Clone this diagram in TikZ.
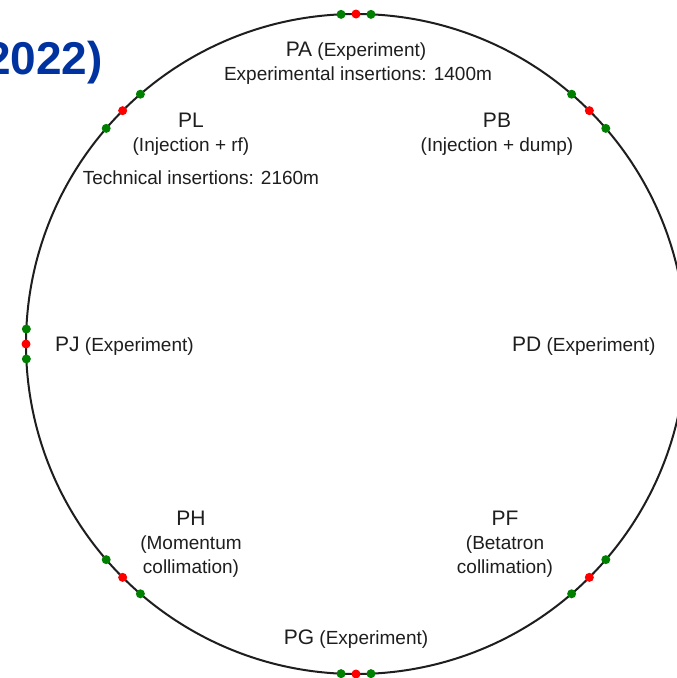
\documentclass[tikz,border=0pt]{standalone}
\usepackage{fontspec}
\setmainfont{Liberation Sans}
\definecolor{dotgreen}{RGB}{0,128,0}
\definecolor{dotred}{RGB}{255,0,0}
\definecolor{titleblue}{RGB}{0,51,160}
\definecolor{ink}{RGB}{30,30,30}
\newcommand{\ipname}[1]{{\fontsize{21}{22}\selectfont #1}}
\begin{document}
\begin{tikzpicture}[x=1pt,y=-1pt,
  ring/.style={line width=2pt, draw=ink},
  gdot/.style={circle, fill=dotgreen, inner sep=0pt, minimum size=9pt},
  rdot/.style={circle, fill=dotred, inner sep=0pt, minimum size=9pt},
  lbl/.style={font=\fontsize{19}{22}\selectfont, text=ink, inner sep=0pt, anchor=base},
  lblw/.style={lbl, anchor=base west}]
\useasboundingbox (0,0) rectangle (677,678);
\clip (0,0) rectangle (677,678);
\fill[white] (0,0) rectangle (677,678);
\coordinate (c) at (356,344);
\draw[ring] (c) circle[radius=330pt];
% axial interaction points
\foreach \n/\a in {pa/90, pj/180, pg/270} {
  \node[gdot] (\n g1) at ([shift={(\a+2.6:330pt)}]c) {};
  \node[gdot] (\n g2) at ([shift={(\a-2.6:330pt)}]c) {};
  \node[rdot] (\n r) at ([shift={(\a:330pt)}]c) {};
}
% diagonal points
\foreach \n/\a in {pb/45, pl/135, ph/225, pf/315} {
  \node[gdot] (\n g1) at ([shift={(\a+4.2:330pt)}]c) {};
  \node[gdot] (\n g2) at ([shift={(\a-4.2:330pt)}]c) {};
  \node[rdot] (\n r) at ([shift={(\a:330pt)}]c) {};
}
% labels
\node[lbl] (paT) at (356,56.5) {\ipname{PA} (Experiment)};
\node[lbl] (paI) at (358,80) {Experimental insertions: 1400m};
\node[lbl] (plT) at (191,127.5) {\ipname{PL}};
\node[lbl] (plS) at (191,151.5) {(Injection + rf)};
\node[lbl] (plI) at (201,184) {Technical insertions: 2160m};
\node[lbl] (pbT) at (497,127.5) {\ipname{PB}};
\node[lbl] (pbS) at (497,151.5) {(Injection + dump)};
\node[lblw] (pjT) at (55,351) {\ipname{PJ} (Experiment)};
\node[lblw] (pdT) at (512,351) {\ipname{PD} (Experiment)};
\node[lbl] (phT) at (191,525) {\ipname{PH}};
\node[lbl] (phS) at (191,549) {(Momentum};
\node[lbl] (phS2) at (191,573) {collimation)};
\node[lbl] (pfT) at (505,525) {\ipname{PF}};
\node[lbl] (pfS) at (505,549) {(Betatron};
\node[lbl] (pfS2) at (505,573) {collimation)};
\node[lbl] (pgT) at (356,644) {\ipname{PG} (Experiment)};
% title fragment
\node[anchor=base east, inner sep=0pt, text=titleblue, font=\fontsize{46}{50}\selectfont\bfseries] (title) at (103,74) {2022)};
\end{tikzpicture}
\end{document}
